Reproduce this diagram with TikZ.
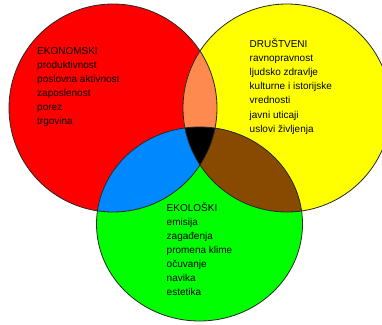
\documentclass[tikz,border=0pt]{standalone}
\usepackage{fontspec}
\setmainfont{Liberation Sans}
\definecolor{cred}{RGB}{255,0,0}
\definecolor{cyellow}{RGB}{255,255,0}
\definecolor{cgreen}{RGB}{0,255,0}
\definecolor{corange}{RGB}{255,138,80}
\definecolor{cblue}{RGB}{0,136,255}
\definecolor{cbrown}{RGB}{136,74,0}
\definecolor{cline}{RGB}{40,40,40}
\begin{document}
\begin{tikzpicture}[x=1pt,y=-1pt,
  lbl/.style={anchor=base west,inner sep=0pt,font=\fontsize{10}{14}\selectfont,text=black},
  outline/.style={draw=cline,line width=0.8pt}]
\useasboundingbox (0,0) rectangle (382,324);
\clip (0,0) rectangle (382,324);
\def\redc{(113,108) ellipse[x radius=104,y radius=104]}
\def\yelc{(287,108) ellipse[x radius=104,y radius=104]}
\def\grnc{(199.5,224) ellipse[x radius=103,y radius=97]}
\fill[cred] \redc;
\fill[cyellow] \yelc;
\fill[cgreen] \grnc;
\begin{scope}
  \clip \redc;
  \fill[corange] \yelc;
  \fill[cblue] \grnc;
\end{scope}
\begin{scope}
  \clip \yelc;
  \fill[cbrown] \grnc;
\end{scope}
\begin{scope}
  \clip \redc;
  \clip \yelc;
  \fill[black] \grnc;
\end{scope}
\draw[outline] \redc;
\draw[outline] \yelc;
\draw[outline] \grnc;
\foreach \t [count=\i] in {EKONOMSKI,produktivnost,poslovna aktivnost,zaposlenost,porez,trgovina}
  \node[lbl] (eko\i) at (37,54+14*\i-14) {\t};
\foreach \t [count=\i] in {DRUŠTVENI,ravnopravnost,ljudsko zdravlje,kulturne i istorijske,vrednosti,javni uticaji,uslovi življenja}
  \node[lbl] (dru\i) at (249.5,47.5+14.1*\i-14.1) {\t};
\foreach \t [count=\i] in {EKOLOŠKI,emisija,zagađenja,promena klime,očuvanje,navika,estetika}
  \node[lbl] (ekl\i) at (166.5,211+14.1*\i-14.1) {\t};
\end{tikzpicture}
\end{document}
